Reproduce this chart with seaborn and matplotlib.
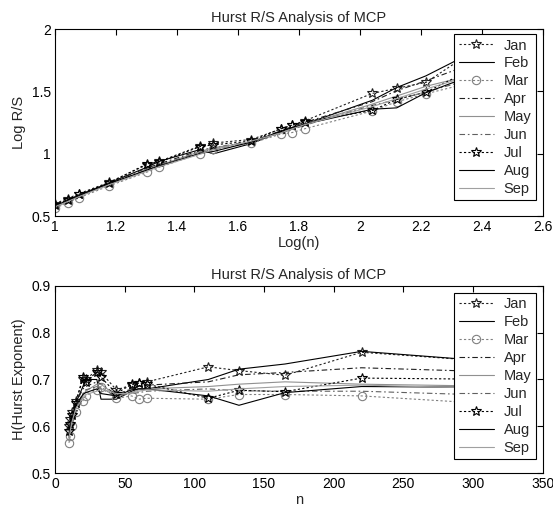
import numpy as np
import pandas as pd
import matplotlib
matplotlib.use("Agg")
import matplotlib.pyplot as plt
import seaborn as sns

# ---------------- data ----------------
months = ["Jan", "Feb", "Mar", "Apr", "May", "Jun", "Jul", "Aug", "Sep"]

n_vals = [10, 11, 12, 15, 20, 22, 30, 33, 44, 55, 60, 66, 110, 132, 165, 220, 330]
log_n = [1.000, 1.041, 1.079, 1.176, 1.301, 1.342, 1.477, 1.519, 1.643, 1.740,
         1.778, 1.820, 2.041, 2.121, 2.217, 2.342, 2.519]

# Log R/S (top panel)
rs_jan = [0.600, 0.640, 0.680, 0.770, 0.911, 0.939, 1.063, 1.086, 1.114, 1.197, 1.230, 1.265, 1.484, 1.525, 1.572, 1.775, 1.851]
rs_feb = [0.580, 0.625, 0.669, 0.764, 0.891, 0.939, 1.034, 0.999, 1.081, 1.175, 1.209, 1.238, 1.429, 1.531, 1.625, 1.780, 1.851]
rs_mar = [0.565, 0.604, 0.647, 0.741, 0.852, 0.892, 1.001, 1.041, 1.084, 1.157, 1.170, 1.201, 1.343, 1.417, 1.481, 1.557, 1.625]
rs_apr = [0.585, 0.630, 0.669, 0.764, 0.885, 0.919, 1.027, 1.048, 1.098, 1.183, 1.218, 1.252, 1.418, 1.506, 1.585, 1.698, 1.801]
rs_may = [0.570, 0.614, 0.658, 0.753, 0.865, 0.906, 1.019, 1.048, 1.093, 1.169, 1.205, 1.238, 1.398, 1.463, 1.541, 1.616, 1.726]
rs_jun = [0.575, 0.619, 0.660, 0.755, 0.872, 0.910, 1.012, 1.033, 1.093, 1.166, 1.195, 1.229, 1.388, 1.434, 1.496, 1.581, 1.675]
rs_jul = [0.590, 0.630, 0.674, 0.764, 0.918, 0.933, 1.058, 1.071, 1.101, 1.201, 1.232, 1.256, 1.347, 1.436, 1.494, 1.646, 1.763]
rs_aug = [0.580, 0.623, 0.664, 0.759, 0.869, 0.902, 1.004, 1.018, 1.093, 1.180, 1.209, 1.238, 1.357, 1.368, 1.490, 1.604, 1.720]
rs_sep = [0.575, 0.616, 0.656, 0.750, 0.859, 0.896, 0.997, 1.033, 1.101, 1.166, 1.200, 1.234, 1.378, 1.442, 1.519, 1.611, 1.713]

# Hurst exponent (bottom panel)
h_jan = [0.600, 0.615, 0.630, 0.655, 0.700, 0.700, 0.720, 0.715, 0.678, 0.688, 0.692, 0.695, 0.727, 0.719, 0.709, 0.758, 0.735]
h_feb = [0.580, 0.600, 0.620, 0.650, 0.685, 0.700, 0.700, 0.658, 0.658, 0.675, 0.680, 0.680, 0.700, 0.722, 0.733, 0.760, 0.735]
h_mar = [0.565, 0.580, 0.600, 0.630, 0.655, 0.665, 0.678, 0.685, 0.660, 0.665, 0.658, 0.660, 0.658, 0.668, 0.668, 0.665, 0.645]
h_apr = [0.585, 0.605, 0.620, 0.650, 0.680, 0.685, 0.695, 0.690, 0.668, 0.680, 0.685, 0.688, 0.695, 0.710, 0.715, 0.725, 0.715]
h_may = [0.570, 0.590, 0.610, 0.640, 0.665, 0.675, 0.690, 0.690, 0.665, 0.672, 0.678, 0.680, 0.685, 0.690, 0.695, 0.690, 0.685]
h_jun = [0.575, 0.595, 0.612, 0.642, 0.670, 0.678, 0.685, 0.680, 0.665, 0.670, 0.672, 0.675, 0.680, 0.676, 0.675, 0.675, 0.665]
h_jul = [0.590, 0.605, 0.625, 0.650, 0.706, 0.695, 0.716, 0.705, 0.670, 0.690, 0.693, 0.690, 0.660, 0.677, 0.674, 0.703, 0.700]
h_aug = [0.580, 0.598, 0.615, 0.645, 0.668, 0.672, 0.680, 0.670, 0.665, 0.678, 0.680, 0.680, 0.665, 0.645, 0.672, 0.685, 0.683]
h_sep = [0.575, 0.592, 0.608, 0.638, 0.660, 0.668, 0.675, 0.680, 0.670, 0.670, 0.675, 0.678, 0.675, 0.680, 0.685, 0.688, 0.680]

rs_series = [rs_jan, rs_feb, rs_mar, rs_apr, rs_may, rs_jun, rs_jul, rs_aug, rs_sep]
h_series = [h_jan, h_feb, h_mar, h_apr, h_may, h_jun, h_jul, h_aug, h_sep]

# ---------------- styles ----------------
DOT = (0, (2.0, 2.0))
DASHDOT = (0, (5.0, 2.5, 1.5, 2.5))
styles = {
    "Jan": dict(color="#202020", linestyle=DOT, marker="*"),
    "Feb": dict(color="#000000", linestyle="-", marker=None),
    "Mar": dict(color="#808080", linestyle=DOT, marker="o"),
    "Apr": dict(color="#202020", linestyle=DASHDOT, marker=None),
    "May": dict(color="#909090", linestyle="-", marker=None),
    "Jun": dict(color="#606060", linestyle=DASHDOT, marker=None),
    "Jul": dict(color="#000000", linestyle=DOT, marker="*"),
    "Aug": dict(color="#000000", linestyle="-", marker=None),
    "Sep": dict(color="#a0a0a0", linestyle="-", marker=None),
}

sns.set_style("white")
plt.rcParams["font.family"] = ["Liberation Sans", "DejaVu Sans"]
FS = 10.5
TFS = 10
plt.rcParams["font.size"] = FS

fig = plt.figure(figsize=(5.53, 5.12), dpi=100)
ax1 = fig.add_axes([0.0995, 0.578, 0.8819, 0.3652])
ax2 = fig.add_axes([0.0995, 0.0756, 0.8819, 0.3664])


def draw(ax, xs, series):
    for m, ys in zip(months, series):
        st = styles[m]
        kw = dict(color=st["color"], linestyle=st["linestyle"], linewidth=0.8)
        if st["marker"] is not None:
            kw.update(marker=st["marker"], markersize=7 if st["marker"] == "*" else 6,
                      markerfacecolor="none", markeredgecolor=st["color"],
                      markeredgewidth=0.8)
        df = pd.DataFrame({"x": xs, "y": ys})
        sns.lineplot(data=df, x="x", y="y", ax=ax, label=m, sort=False,
                     estimator=None, **kw)


draw(ax1, log_n, rs_series)
draw(ax2, n_vals, h_series)

for ax in (ax1, ax2):
    for sp in ax.spines.values():
        sp.set_visible(True)
        sp.set_color("black")
        sp.set_linewidth(0.8)
    ax.tick_params(direction="in", length=4, width=0.8, top=True, right=True,
                   labelsize=TFS, pad=3, colors="black")
    leg = ax.legend(loc="upper right", frameon=True, fancybox=False,
                    edgecolor="black", framealpha=1, fontsize=FS,
                    handlelength=2.4, handletextpad=0.7, labelspacing=0.27,
                    borderpad=0.3, borderaxespad=0.0,
                    bbox_to_anchor=(0.986, 0.973 if ax is ax1 else 0.961))
    leg.get_frame().set_linewidth(0.8)

ax1.set_xlim(1, 2.6)
ax1.set_ylim(0.5, 2)
ax1.set_xticks(np.arange(1, 2.61, 0.2))
ax1.set_xticklabels(["1", "1.2", "1.4", "1.6", "1.8", "2", "2.2", "2.4", "2.6"])
ax1.set_yticks([0.5, 1, 1.5, 2])
ax1.set_yticklabels(["0.5", "1", "1.5", "2"])
ax1.set_xlabel("Log(n)", labelpad=1)
ax1.set_ylabel("Log R/S", labelpad=4)
ax1.set_title("Hurst R/S Analysis of MCP", fontsize=FS, pad=5)

ax2.set_xlim(0, 350)
ax2.set_ylim(0.5, 0.9)
ax2.set_xticks(np.arange(0, 351, 50))
ax2.set_yticks([0.5, 0.6, 0.7, 0.8, 0.9])
ax2.set_xlabel("n", labelpad=1)
ax2.set_ylabel("H(Hurst Exponent)", labelpad=4)
ax2.set_title("Hurst R/S Analysis of MCP", fontsize=FS, pad=5)

fig.savefig("out.png", dpi=100, facecolor="white")
